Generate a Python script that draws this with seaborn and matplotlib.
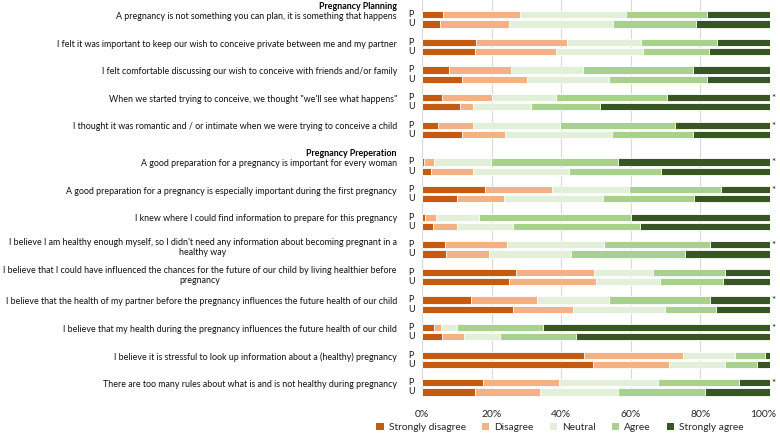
import matplotlib
matplotlib.use("Agg")
import matplotlib.pyplot as plt
import matplotlib.transforms as mtransforms
from matplotlib.patches import Patch
import numpy as np
import pandas as pd
import seaborn as sns

levels = ['Strongly disagree', 'Disagree', 'Neutral', 'Agree', 'Strongly agree']
colors = ['#C55A11', '#F4B183', '#E2F0D9', '#A9D18E', '#375623']

section_titles = ['Pregnancy Planning', 'Pregnancy Preperation']
planning_items = [
    'A pregnancy is not something you can plan, it is something that happens',
    'I felt it was important to keep our wish to conceive private between me and my partner',
    'I felt comfortable discussing our wish to conceive with friends and/or family',
    'When we started trying to conceive, we thought "we\'ll see what happens"',
    'I thought it was romantic and / or intimate when we were trying to conceive a child',
]
preparation_items = [
    'A good preparation for a pregnancy is important for every woman',
    'A good preparation for a pregnancy is especially important during the first pregnancy',
    'I knew where I could find information to prepare for this pregnancy',
    'I believe I am healthy enough myself, so I didn\'t need any information about becoming pregnant in a\nhealthy way',
    'I believe that I could have influenced the chances for the future of our child by living healthier before\npregnancy',
    'I believe that the health of my partner before the pregnancy influences the future health of our child',
    'I believe that my health during the pregnancy influences the future health of our child',
    'I believe it is stressful to look up information about a (healthy) pregnancy',
    'There are too many rules about what is and is not healthy during pregnancy',
]
significant = [0, 0, 0, 1, 1, 1, 1, 0, 1, 0, 1, 1, 0, 1]

# percentages, group P
sd_p = [6.0, 15.5, 7.9, 5.7, 4.6, 0.6, 18.0, 0.9, 6.7, 26.9, 14.1, 3.4, 46.7, 17.4]
d_p = [22.1, 26.1, 17.6, 14.3, 10.0, 2.8, 19.4, 3.1, 17.6, 22.6, 18.9, 2.0, 28.3, 22.0]
n_p = [30.5, 21.3, 20.9, 18.4, 25.0, 16.3, 22.0, 12.4, 27.9, 16.8, 20.7, 4.6, 15.0, 28.5]
a_p = [23.3, 21.8, 31.4, 31.9, 33.0, 36.6, 26.5, 43.7, 30.7, 20.8, 29.2, 24.9, 8.6, 23.1]
sa_p = [18.1, 15.3, 22.2, 29.7, 27.4, 43.7, 14.1, 39.9, 17.1, 12.9, 17.1, 65.1, 1.4, 9.0]

# percentages, group U
sd_u = [5.1, 15.2, 11.5, 10.8, 11.5, 2.5, 10.2, 3.1, 6.9, 24.9, 26.2, 5.7, 49.3, 15.2]
d_u = [19.8, 23.2, 18.6, 3.8, 12.3, 12.1, 13.5, 7.1, 12.3, 25.1, 17.3, 6.3, 21.6, 18.6]
n_u = [30.1, 25.0, 23.6, 16.7, 30.9, 27.6, 28.2, 16.0, 23.7, 18.5, 26.3, 10.3, 16.3, 22.6]
a_u = [23.8, 19.2, 28.2, 19.9, 23.2, 26.4, 26.2, 36.6, 32.7, 18.0, 14.8, 21.9, 9.0, 25.0]
sa_u = [21.2, 17.4, 18.1, 48.8, 22.1, 31.4, 21.9, 37.2, 24.4, 13.5, 15.4, 55.8, 3.8, 18.6]

x_ticks = [0, 20, 40, 60, 80, 100]
x_ticklabels = ['0%', '20%', '40%', '60%', '80%', '100%']

sns.set_theme(style='white')
plt.rcParams['font.family'] = ['Lato', 'DejaVu Sans']

# slot layout: header row, then P / U / gap for each statement
statements = []
p_slots = []
header_slots = []
slot = 0
for title, items in zip(section_titles, [planning_items, preparation_items]):
    header_slots.append(slot)
    slot += 1
    for item in items:
        statements.append(item)
        p_slots.append(slot)
        slot += 3
p_slots = np.array(p_slots)
u_slots = p_slots + 1

df_p = pd.DataFrame(dict(zip(levels, [sd_p, d_p, n_p, a_p, sa_p])))
df_p['pos'] = p_slots
df_u = pd.DataFrame(dict(zip(levels, [sd_u, d_u, n_u, a_u, sa_u])))
df_u['pos'] = u_slots
df = pd.concat([df_p, df_u], ignore_index=True)
cum = df[levels].cumsum(axis=1)
cum['pos'] = df['pos']

fig, ax = plt.subplots(figsize=(7.8, 4.33), dpi=100)
fig.subplots_adjust(left=0.541, right=0.987, top=1.0, bottom=0.082)

# stacked bars: draw cumulative totals from widest to narrowest
for i in range(len(levels) - 1, -1, -1):
    sns.barplot(data=cum, x=levels[i], y='pos', orient='h', native_scale=True,
                color=colors[i], saturation=1, width=0.78, errorbar=None,
                edgecolor='white', linewidth=0.6, ax=ax)

ax.set_ylim(42.6, -0.6)
ax.set_xlim(0, 100)
ax.set_xticks(x_ticks)
ax.set_xticklabels(x_ticklabels, fontsize=7.5)
ax.tick_params(axis='x', length=0, pad=9)
last = ax.get_xticklabels()[-1]
last.set_transform(last.get_transform() +
                   mtransforms.ScaledTranslation(-7 / 100, 0, fig.dpi_scale_trans))
ax.set_yticks([])
ax.set_xlabel('')
ax.set_ylabel('')
ax.xaxis.grid(True, color='#d9d9d9', linewidth=0.8)
ax.set_axisbelow(True)
for s in ax.spines.values():
    s.set_visible(False)

trans = mtransforms.blended_transform_factory(ax.transAxes, ax.transData)
lab_x = -0.072
for title, hs in zip(section_titles, header_slots):
    ax.text(lab_x, hs + 0.1, title, transform=trans, ha='right', va='center',
            fontsize=6.4, fontweight='bold', color='black')
for text, ps, sig in zip(statements, p_slots, significant):
    yy = ps + (0.35 if '\n' in text else 0.2)
    ax.text(lab_x, yy, text, transform=trans, ha='right', va='center',
            multialignment='center', fontsize=6.4, color='#111111',
            linespacing=1.15)
    ax.text(-0.039, ps, 'P', transform=trans, ha='left', va='center',
            fontsize=6.4, color='#111111')
    ax.text(-0.039, ps + 1, 'U', transform=trans, ha='left', va='center',
            fontsize=6.4, color='#111111')
    if sig:
        ax.text(1.011, ps + 0.1, '*', transform=trans, ha='center',
                va='center', fontsize=7, color='#111111')

handles = [Patch(facecolor=c, edgecolor='none', label=l)
           for c, l in zip(colors, levels)]
fig.legend(handles=handles, loc='center', bbox_to_anchor=(0.718, 0.013),
           ncol=5, frameon=False, fontsize=7.3, handlelength=0.7,
           handleheight=0.7, handletextpad=0.5, columnspacing=1.6,
           borderaxespad=0)

fig.savefig('out.png', dpi=100)
